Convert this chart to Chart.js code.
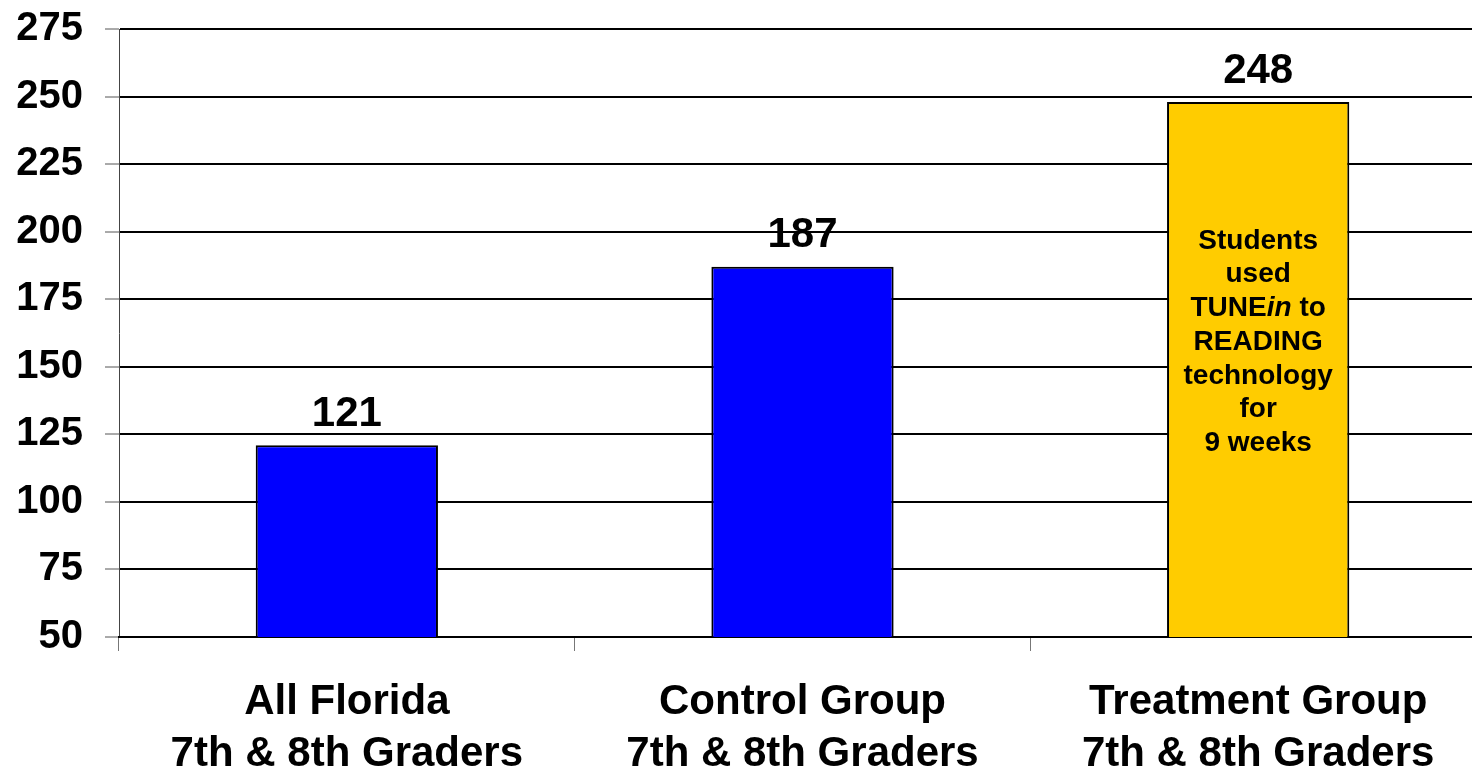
<!DOCTYPE html>
<html>
<head>
<meta charset="utf-8">
<script src="https://cdn.jsdelivr.net/npm/chart.js@4"></script>
<style>
  html, body { margin: 0; padding: 0; background: #fff; overflow: hidden; }
  #wrap { width: 1500px; height: 771px; }
</style>
</head>
<body>
<div id="wrap"><canvas id="scores" width="1500" height="771"></canvas></div>
<script>
const categories = [
  ["All Florida", "7th & 8th Graders"],
  ["Control Group", "7th & 8th Graders"],
  ["Treatment Group", "7th & 8th Graders"],
];
const scores = [121, 187, 248];
const barColors = ["#0000FF", "#0000FF", "#FFCC00"];
const yMin = 50;
const yMax = 275;
const yStep = 25;
const noteLines = ["Students", "used", "TUNE|in| to", "READING", "technology", "for", "9 weeks"];

const FONT = "'Liberation Sans', Arial, sans-serif";

const valueLabels = {
  id: "valueLabels",
  afterDatasetsDraw(chart) {
    const ctx = chart.ctx;
    const meta = chart.getDatasetMeta(0);
    ctx.save();
    ctx.fillStyle = "#000";
    ctx.font = "bold 42px " + FONT;
    ctx.textAlign = "center";
    ctx.textBaseline = "bottom";
    meta.data.forEach((bar, i) => {
      ctx.fillText(String(scores[i]), bar.x, bar.y - 10);
    });

    // note inside the treatment bar
    const bar = meta.data[2];
    const lineH = 33.7;
    let y = chart.chartArea.top + 212;
    ctx.textBaseline = "middle";
    noteLines.forEach((line) => {
      const parts = line.split("|");
      if (parts.length === 1) {
        ctx.font = "bold 28px " + FONT;
        ctx.textAlign = "center";
        ctx.fillText(line, bar.x, y);
      } else {
        const fonts = ["bold 28px " + FONT, "italic bold 28px " + FONT, "bold 28px " + FONT];
        let total = 0;
        const widths = parts.map((p, k) => {
          ctx.font = fonts[k];
          const w = ctx.measureText(p).width;
          total += w;
          return w;
        });
        let x = bar.x - total / 2;
        ctx.textAlign = "left";
        parts.forEach((p, k) => {
          ctx.font = fonts[k];
          ctx.fillText(p, x, y);
          x += widths[k];
        });
      }
      y += lineH;
    });
    ctx.restore();
  },
};

new Chart(document.getElementById("scores"), {
  type: "bar",
  data: {
    labels: categories,
    datasets: [
      {
        data: scores,
        backgroundColor: barColors,
        borderColor: "#000",
        borderWidth: 2,
        borderSkipped: false,
        categoryPercentage: 1,
        barPercentage: 0.4,
      },
    ],
  },
  options: {
    responsive: false,
    animation: false,
    devicePixelRatio: 1,
    layout: { padding: { top: 29, right: 14, left: 0, bottom: 0 } },
    plugins: {
      legend: { display: false },
      tooltip: { enabled: false },
    },
    scales: {
      y: {
        min: yMin,
        max: yMax,
        afterFit(scale) {
          scale.width = 119;
          scale.paddingTop = 0;
          scale.paddingBottom = 0;
        },
        ticks: {
          stepSize: yStep,
          color: "#000",
          padding: 22,
          font: { family: FONT, size: 40, weight: "bold" },
        },
        grid: {
          color: "#000",
          lineWidth: 2,
          tickLength: 14,
          tickColor: "#555",
          tickWidth: 1,
        },
        border: { display: true, color: "#444", width: 1 },
      },
      x: {
        afterFit(scale) { scale.height = 134; },
        ticks: {
          color: "#000",
          padding: 25,
          maxRotation: 0,
          font: { family: FONT, size: 42, weight: "bold", lineHeight: 1.25 },
        },
        grid: {
          drawOnChartArea: false,
          tickLength: 14,
          color: "#777",
          lineWidth: 1,
        },
        border: { display: true, color: "#000", width: 2 },
      },
    },
  },
  plugins: [valueLabels],
});
</script>
</body>
</html>
